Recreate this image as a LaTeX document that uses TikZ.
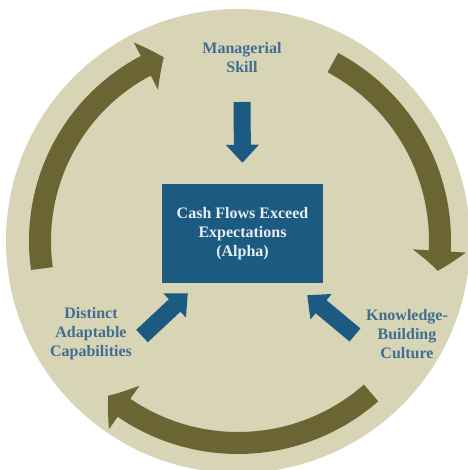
\documentclass[tikz,border=0pt]{standalone}
\usepackage{fontspec}
\setmainfont{Liberation Serif}
\usetikzlibrary{arrows.meta}
\usetikzlibrary{bending}

\definecolor{disc}{HTML}{D8D5B6}
\definecolor{loopolive}{HTML}{6A6532}
\definecolor{boxblue}{HTML}{1B5B82}
\definecolor{labelblue}{HTML}{406E90}
\definecolor{boxtext}{HTML}{E9EDF0}

\begin{document}
\begin{tikzpicture}[x=1pt,y=1pt,
  factor/.style={text=labelblue,font=\bfseries\fontsize{16}{19}\selectfont,align=center,inner sep=0pt},
  feed/.style={boxblue,line width=17pt,-{Triangle[width=32pt,length=18pt]}},
  roundarrow/.style={loopolive,line width=22pt,-{Triangle[width=52pt,length=20pt,bend]}}]
\useasboundingbox (0,0) rectangle (467,470);
\fill[white] (0,0) rectangle (467,470);
% backdrop disc
\coordinate (c) at (238,229);
\fill[disc] (c) circle (232);

% the three turning arrows round the disc
\draw[roundarrow] ([shift={(188:198)}]c) arc[start angle=188,end angle=112,radius=198];
\draw[roundarrow] ([shift={(62:202)}]c) arc[start angle=62,end angle=-8.5,radius=202];
\draw[roundarrow] ([shift={(-48.8:202)}]c) arc[start angle=-48.8,end angle=-130,radius=202];

% centre box and the three drivers
\node[fill=boxblue,minimum width=161pt,minimum height=99pt,inner sep=0pt,
  text=boxtext,font=\bfseries\fontsize{16}{19}\selectfont,align=center] (cash) at (242.5,236.5)
  {Cash Flows Exceed\\Expectations\\(Alpha)};
\node[factor] (skill) at (242,412) {Managerial\\Skill};
\node[factor] (dac) at (91,136) {Distinct\\Adaptable\\Capabilities};
\node[factor] (kbc) at (407,136) {Knowledge-\\Building\\Culture};

\draw[feed] ([yshift=-44pt]skill.center) -- ([yshift=21pt]cash.north);
\draw[feed] ([shift={(51pt,-2pt)}]dac.center) -- ([shift={(26pt,-10pt)}]cash.south west);
\draw[feed] ([shift={(-52pt,-1pt)}]kbc.center) -- ([shift={(-16pt,-12pt)}]cash.south east);
\end{tikzpicture}
\end{document}
